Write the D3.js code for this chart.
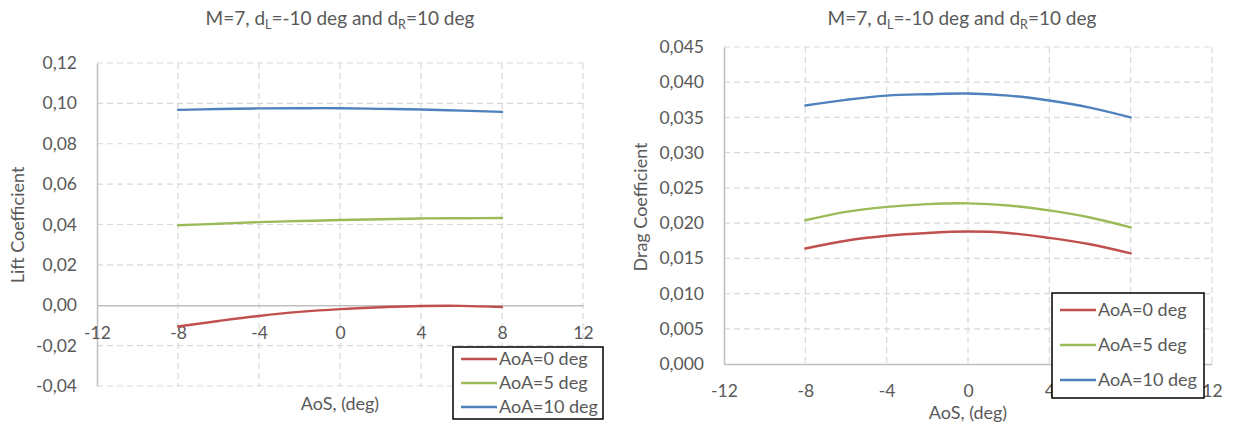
<!DOCTYPE html>
<html>
<head>
<meta charset="utf-8">
<script src="https://cdn.jsdelivr.net/npm/d3@7"></script>
<style>
  html, body { margin: 0; padding: 0; background: #fff; }
  svg { display: block; font-family: Lato, "Open Sans", sans-serif; }
  text { fill: #595959; }
</style>
</head>
<body>
<svg id="chart" width="1235" height="423"></svg>
<script>
// Sideslip sweep (AoS, deg) at M=7 with dL=-10 deg and dR=10 deg
const aos = [-8, -6, -4, -2, 0, 2, 4, 6, 8];
const seriesNames = ["AoA=0 deg", "AoA=5 deg", "AoA=10 deg"];
const seriesColors = ["#C0504D", "#9BBB59", "#4F81BD"];

// Lift coefficient per angle of attack
const liftAoA0  = [-0.0105, -0.0078, -0.0053, -0.0033, -0.0019, -0.0010, -0.0004, -0.0003, -0.0009];
const liftAoA5  = [0.0396, 0.0404, 0.0412, 0.0417, 0.0422, 0.0426, 0.0430, 0.0431, 0.0432];
const liftAoA10 = [0.0968, 0.0972, 0.0975, 0.0976, 0.0976, 0.0973, 0.0970, 0.0964, 0.0958];

// Drag coefficient per angle of attack
const dragAoA0  = [0.0164, 0.0175, 0.0182, 0.0186, 0.0188, 0.0186, 0.0179, 0.0170, 0.0157];
const dragAoA5  = [0.0204, 0.0216, 0.0223, 0.0227, 0.0228, 0.0225, 0.0218, 0.0208, 0.0194];
const dragAoA10 = [0.0367, 0.0375, 0.0381, 0.0383, 0.0384, 0.0381, 0.0374, 0.0364, 0.0350];

// Axis ticks
const xTicks = [-12, -8, -4, 0, 4, 8, 12];
const liftTicks = [-0.04, -0.02, 0, 0.02, 0.04, 0.06, 0.08, 0.10, 0.12];
const dragTicks = [0, 0.005, 0.010, 0.015, 0.020, 0.025, 0.030, 0.035, 0.040, 0.045];

const locale = d3.formatLocale({ decimal: ",", thousands: ".", grouping: [3], currency: ["", ""], minus: "-" });

const svg = d3.select("#chart");

function drawPanel(cfg) {
  const x = d3.scaleLinear().domain([-12, 12]).range([cfg.left, cfg.right]);
  const y = d3.scaleLinear().domain(cfg.yDomain).range([cfg.bottom, cfg.top]);
  const g = svg.append("g");

  // dashed grid
  g.append("g").selectAll("line").data(cfg.yTicks.filter(v => v !== 0)).join("line")
    .attr("x1", cfg.left).attr("x2", cfg.right)
    .attr("y1", d => y(d)).attr("y2", d => y(d))
    .attr("stroke", "#d9d9d9").attr("stroke-width", 1.2).attr("stroke-dasharray", "6,4");
  g.append("g").selectAll("line").data(xTicks.filter(v => v !== -12)).join("line")
    .attr("x1", d => x(d)).attr("x2", d => x(d))
    .attr("y1", cfg.top).attr("y2", cfg.bottom)
    .attr("stroke", "#d9d9d9").attr("stroke-width", 1.2).attr("stroke-dasharray", "6,4");

  // y axis
  const yAxis = g.append("g").attr("transform", `translate(${cfg.left},0)`)
    .call(d3.axisLeft(y).tickValues(cfg.yTicks).tickFormat(locale.format(cfg.fmt)).tickSize(0).tickPadding(20));
  yAxis.select(".domain").attr("stroke", "#bfbfbf").attr("stroke-width", 1.5);
  yAxis.selectAll("text").attr("font-size", 17.5).attr("font-family", "Lato").attr("fill", "#595959");

  // x axis sits on the zero line
  const xAxis = g.append("g").attr("transform", `translate(0,${y(0)})`)
    .call(d3.axisBottom(x).tickValues(xTicks).tickFormat(locale.format("d")).tickSize(0).tickPadding(21));
  xAxis.select(".domain").attr("stroke", "#bfbfbf").attr("stroke-width", 1.5);
  xAxis.selectAll("text").attr("font-size", 17.5).attr("font-family", "Lato").attr("fill", "#595959");

  // series lines
  const line = d3.line().x((d, i) => x(aos[i])).y(d => y(d)).curve(d3.curveCatmullRom.alpha(0.5));
  g.append("g").selectAll("path").data(cfg.series).join("path")
    .attr("d", d => line(d))
    .attr("fill", "none")
    .attr("stroke", (d, i) => seriesColors[i])
    .attr("stroke-width", 2.4)
    .attr("stroke-linecap", "round");

  // title with subscripts
  const title = g.append("text").attr("x", cfg.titleX).attr("y", 25)
    .attr("text-anchor", "middle").attr("font-size", 19);
  title.append("tspan").text("M=7, d");
  title.append("tspan").text("L").attr("font-size", 12.5).attr("dy", 4);
  title.append("tspan").text("=-10 deg and d").attr("dy", -4);
  title.append("tspan").text("R").attr("font-size", 12.5).attr("dy", 4);
  title.append("tspan").text("=10 deg").attr("dy", -4);

  // axis titles
  g.append("text").attr("x", (cfg.left + cfg.right) / 2).attr("y", cfg.xTitleY)
    .attr("text-anchor", "middle").attr("font-size", 18).text("AoS, (deg)");
  g.append("text").attr("transform", `translate(${cfg.yTitleX},${cfg.yTitleY}) rotate(-90)`)
    .attr("text-anchor", "middle").attr("font-size", 18).text(cfg.yTitle);

  // legend
  const lg = g.append("g");
  lg.append("rect").attr("x", cfg.legend.x).attr("y", cfg.legend.y)
    .attr("width", cfg.legend.w).attr("height", cfg.legend.h)
    .attr("fill", "#fff").attr("stroke", "#000").attr("stroke-width", 1.5);
  const items = lg.selectAll("g.item").data(seriesNames).join("g").attr("class", "item")
    .attr("transform", (d, i) => `translate(${cfg.legend.x},${cfg.legend.y + cfg.legend.first + i * cfg.legend.step})`);
  items.append("line").attr("x1", 8).attr("x2", 44).attr("y1", 0).attr("y2", 0)
    .attr("stroke", (d, i) => seriesColors[i]).attr("stroke-width", 2.4);
  items.append("text").attr("x", 46).attr("y", 0).attr("dy", "0.35em")
    .attr("font-size", 18).text(d => d);
}

drawPanel({
  left: 97, right: 583, top: 63, bottom: 386,
  yDomain: [-0.04, 0.12], yTicks: liftTicks, fmt: ".2f",
  series: [liftAoA0, liftAoA5, liftAoA10],
  titleX: 340, xTitleY: 410, yTitle: "Lift Coefficient", yTitleX: 24, yTitleY: 225,
  legend: { x: 453, y: 347, w: 150, h: 72, first: 12, step: 24 }
});

drawPanel({
  left: 724, right: 1212, top: 47, bottom: 364,
  yDomain: [0, 0.045], yTicks: dragTicks, fmt: ".3f",
  series: [dragAoA0, dragAoA5, dragAoA10],
  titleX: 962, xTitleY: 419, yTitle: "Drag Coefficient", yTitleX: 647, yTitleY: 207,
  legend: { x: 1052, y: 293, w: 152, h: 105, first: 17, step: 35 }
});
</script>
</body>
</html>
